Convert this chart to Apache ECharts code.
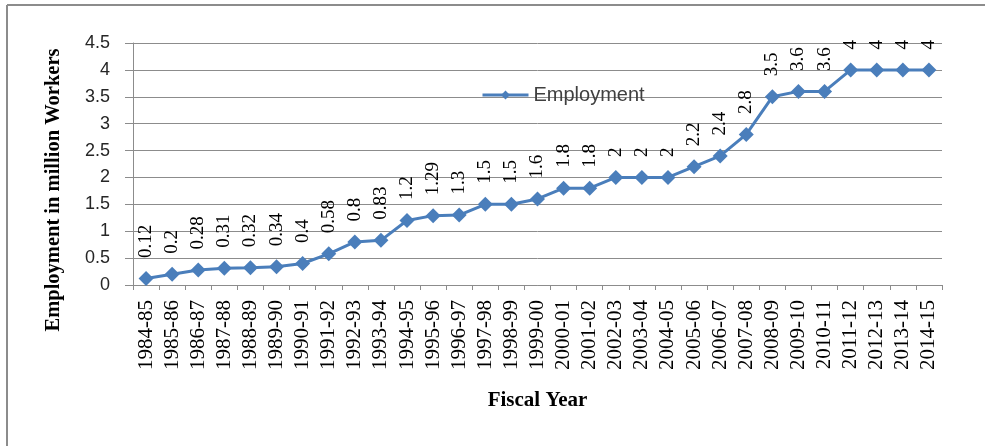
<!DOCTYPE html>
<html>
<head>
<meta charset="utf-8">
<script src="https://cdn.jsdelivr.net/npm/echarts@6/dist/echarts.min.js"></script>
<style>
  html, body { margin: 0; padding: 0; background: #fff; }
</style>
</head>
<body>
<div id="main" style="width: 985px; height: 446px"></div>
<script>
var fiscalYears = [
  "1984-85", "1985-86", "1986-87", "1987-88", "1988-89", "1989-90", "1990-91",
  "1991-92", "1992-93", "1993-94", "1994-95", "1995-96", "1996-97", "1997-98",
  "1998-99", "1999-00", "2000-01", "2001-02", "2002-03", "2003-04", "2004-05",
  "2005-06", "2006-07", "2007-08", "2008-09", "2009-10", "2010-11", "2011-12",
  "2012-13", "2013-14", "2014-15"
];
var employment = [
  0.12, 0.2, 0.28, 0.31, 0.32, 0.34, 0.4,
  0.58, 0.8, 0.83, 1.2, 1.29, 1.3, 1.5,
  1.5, 1.6, 1.8, 1.8, 2, 2, 2,
  2.2, 2.4, 2.8, 3.5, 3.6, 3.6, 4,
  4, 4, 4
];
var yTicks = { min: 0, max: 4.5, interval: 0.5 };

var chartDom = document.getElementById("main");
var myChart = echarts.init(chartDom);
var option;
option = {
  animation: false,
  grid: {
    left: 133,
    right: 43,
    top: 43,
    bottom: 161,
  },
  legend: {
    data: ["Employment"],
    left: 476,
    top: 80,
    itemWidth: 46,
    itemHeight: 11,
    itemGap: 4,
    lineStyle: { width: 3 },
    textStyle: {
      fontFamily: "Liberation Sans",
      fontSize: 20,
      color: "#404040",
    },
  },
  graphic: [
    {
      type: "line",
      shape: { x1: 7, y1: 5, x2: 985, y2: 5 },
      style: { stroke: "#8c8c8c", lineWidth: 2 },
    },
    {
      type: "line",
      shape: { x1: 7, y1: 5, x2: 7, y2: 446 },
      style: { stroke: "#8c8c8c", lineWidth: 2 },
    },
    {
      type: "text",
      x: 54,
      y: 190,
      rotation: Math.PI / 2,
      style: {
        text: "Employment in million Workers",
        font: "bold 20.5px 'Liberation Serif'",
        fill: "#000",
        align: "center",
        verticalAlign: "middle",
      },
    },
  ],
  xAxis: {
    type: "category",
    data: fiscalYears,
    name: "Fiscal Year",
    nameLocation: "middle",
    nameGap: 105,
    nameTextStyle: {
      fontFamily: "Liberation Serif",
      fontWeight: "bold",
      fontSize: 21,
      color: "#000",
    },
    axisLine: { lineStyle: { color: "#8c8c8c", width: 1 } },
    axisTick: { show: true, length: 5, lineStyle: { color: "#8c8c8c" } },
    axisLabel: {
      interval: 0,
      rotate: 90,
      margin: 15,
      fontFamily: "Liberation Serif",
      fontSize: 21,
      color: "#000",
    },
  },
  yAxis: {
    type: "value",
    min: yTicks.min,
    max: yTicks.max,
    interval: yTicks.interval,
    axisLine: { show: true, lineStyle: { color: "#8c8c8c", width: 1 } },
    axisTick: { show: true, length: 8, lineStyle: { color: "#8c8c8c" } },
    axisLabel: {
      margin: 23,
      fontFamily: "Liberation Sans",
      fontSize: 18,
      color: "#262626",
    },
    splitLine: { lineStyle: { color: "#8c8c8c", width: 1 } },
  },
  series: [
    {
      name: "Employment",
      type: "line",
      data: employment,
      symbol: "diamond",
      symbolSize: 15,
      itemStyle: { color: "#4a7ebb" },
      lineStyle: { color: "#4a7ebb", width: 3 },
      label: {
        show: true,
        position: "top",
        distance: 13,
        rotate: 90,
        align: "left",
        verticalAlign: "middle",
        fontFamily: "Liberation Serif",
        fontSize: 19,
        color: "#000",
      },
    },
  ],
};
myChart.setOption(option);
</script>
</body>
</html>
